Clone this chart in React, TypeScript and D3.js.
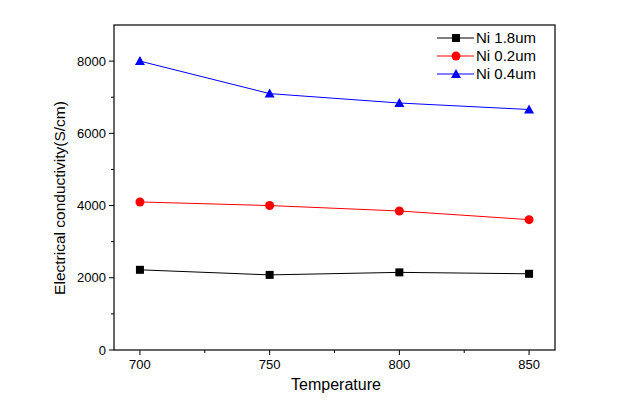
import React from "react";
import * as d3 from "d3";

const temperatures = [700, 750, 800, 850];
const ni18 = [2220, 2080, 2150, 2110];
const ni02 = [4100, 4000, 3850, 3610];
const ni04 = [8000, 7100, 6840, 6660];
const seriesNames = ["Ni 1.8um", "Ni 0.2um", "Ni 0.4um"];
const seriesColors = ["#000000", "#ff0000", "#0000ff"];
const seriesShapes = ["square", "circle", "triangle"];
const xTicks = [700, 750, 800, 850];
const xMinor = [725, 775, 825];
const yTicks = [0, 2000, 4000, 6000, 8000];
const yMinor = [1000, 3000, 5000, 7000];

const W = 630, H = 400;
const M = { left: 114, right: 555, top: 25, bottom: 350 };

function Marker({ shape, x, y, color }: { shape: string; x: number; y: number; color: string }) {
  if (shape === "square") return <rect x={x - 4} y={y - 4} width={8} height={8} fill={color} />;
  if (shape === "circle") return <circle cx={x} cy={y} r={4.5} fill={color} />;
  return <path d={`M${x},${y - 5} L${x + 5},${y + 4} L${x - 5},${y + 4} Z`} fill={color} />;
}

export default function App() {
  const x = d3.scaleLinear().domain([690, 860]).range([M.left, M.right]);
  const y = d3.scaleLinear().domain([0, 9000]).range([M.bottom, M.top]);
  const data = [ni18, ni02, ni04];
  const line = d3.line<number>().x((_, i) => x(temperatures[i])).y((d) => y(d));
  const font = "Arial, 'Liberation Sans', sans-serif";
  return (
    <svg width={W} height={H} style={{ position: "absolute", left: 0, top: 0 }} fontFamily={font}>
      <rect x={M.left} y={M.top} width={M.right - M.left} height={M.bottom - M.top} fill="none" stroke="#000" strokeWidth={1.2} />
      {xTicks.map((t) => (
        <g key={"xt" + t}>
          <line x1={x(t)} x2={x(t)} y1={M.bottom} y2={M.bottom + 5} stroke="#000" />
          <text x={x(t)} y={M.bottom + 19} textAnchor="middle" fontSize={13}>{t}</text>
        </g>
      ))}
      {xMinor.map((t) => (
        <line key={"xm" + t} x1={x(t)} x2={x(t)} y1={M.bottom} y2={M.bottom + 3} stroke="#000" />
      ))}
      {yTicks.map((t) => (
        <g key={"yt" + t}>
          <line x1={M.left - 5} x2={M.left} y1={y(t)} y2={y(t)} stroke="#000" />
          <text x={M.left - 8} y={y(t) + 4.5} textAnchor="end" fontSize={13}>{t}</text>
        </g>
      ))}
      {yMinor.map((t) => (
        <line key={"ym" + t} x1={M.left - 3} x2={M.left} y1={y(t)} y2={y(t)} stroke="#000" />
      ))}
      <text x={336} y={390} textAnchor="middle" fontSize={16}>Temperature</text>
      <text transform={`translate(65,198) rotate(-90)`} textAnchor="middle" fontSize={15.5}>
        Electrical conductivity(S/cm)
      </text>
      {data.map((s, k) => (
        <g key={"s" + k}>
          <path d={line(s) || ""} fill="none" stroke={seriesColors[k]} strokeWidth={1} />
          {s.map((v, i) => (
            <Marker key={i} shape={seriesShapes[k]} x={x(temperatures[i])} y={y(v)} color={seriesColors[k]} />
          ))}
        </g>
      ))}
      {seriesNames.map((n, k) => {
        const ly = 38 + k * 18;
        return (
          <g key={"l" + k}>
            <line x1={437} x2={474} y1={ly} y2={ly} stroke={seriesColors[k]} strokeWidth={1} />
            <Marker shape={seriesShapes[k]} x={456} y={ly} color={seriesColors[k]} />
            <text x={476} y={ly + 5} fontSize={15}>{n}</text>
          </g>
        );
      })}
    </svg>
  );
}
